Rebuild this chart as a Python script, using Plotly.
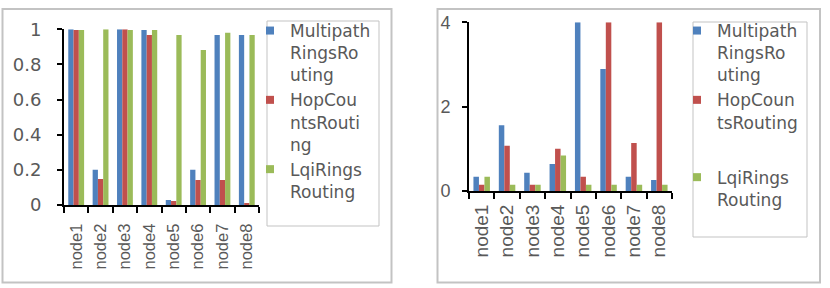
import plotly.graph_objects as go

W, H = 830, 288

categories = ["node1", "node2", "node3", "node4", "node5", "node6", "node7", "node8"]
series_names = ["MultipathRingsRouting", "HopCountsRouting", "LqiRingsRouting"]
legend_left = ["Multipath<br>RingsRo<br>uting", "HopCou<br>ntsRouti<br>ng", "LqiRings<br>Routing"]
legend_right = ["Multipath<br>RingsRo<br>uting", "HopCoun<br>tsRouting<br> ", "LqiRings<br>Routing"]
colors = ["#4F81BD", "#C0504D", "#9BBB59"]

# left chart values
left_multipath = [1.0, 0.2, 1.0, 0.996, 0.028, 0.2, 0.968, 0.968]
left_hopcount = [0.996, 0.148, 1.0, 0.968, 0.023, 0.142, 0.142, 0.011]
left_lqi = [0.996, 1.0, 0.996, 0.996, 0.968, 0.882, 0.981, 0.968]

# right chart values (axis capped at 4)
right_multipath = [0.34, 1.56, 0.43, 0.64, 4.0, 2.89, 0.34, 0.26]
right_hopcount = [0.15, 1.07, 0.15, 1.0, 0.34, 4.0, 1.14, 4.0]
right_lqi = [0.34, 0.15, 0.15, 0.84, 0.15, 0.15, 0.15, 0.15]

left_tickvals = [0, 0.2, 0.4, 0.6, 0.8, 1]
left_ticktext = ["0", "0.2", "0.4", "0.6", "0.8", "1"]
right_tickvals = [0, 2, 4]
right_ticktext = ["0", "2", "4"]

def px(x):
    return x / W

def py(y):
    return 1 - y / H

fig = go.Figure()

left_vals = [left_multipath, left_hopcount, left_lqi]
right_vals = [right_multipath, right_hopcount, right_lqi]

for i in range(3):
    fig.add_trace(go.Bar(x=categories, y=left_vals[i], name=series_names[i],
                         marker=dict(color=colors[i], line=dict(width=0)),
                         xaxis="x", yaxis="y", showlegend=False))
for i in range(3):
    fig.add_trace(go.Bar(x=categories, y=right_vals[i], name=series_names[i],
                         marker=dict(color=colors[i], line=dict(width=0)),
                         xaxis="x2", yaxis="y2", showlegend=False))

# legend entries
for i in range(3):
    fig.add_trace(go.Scatter(x=[None], y=[None], mode="markers", name=legend_left[i],
                             marker=dict(symbol="square", size=8, color=colors[i]),
                             xaxis="x", yaxis="y", legend="legend", showlegend=True))
for i in range(3):
    fig.add_trace(go.Scatter(x=[None], y=[None], mode="markers", name=legend_right[i],
                             marker=dict(symbol="square", size=8, color=colors[i]),
                             xaxis="x2", yaxis="y2", legend="legend2", showlegend=True,
                             legendgroup="c" if i < 2 else "d"))

gray = "#595959"
xfont_l = dict(family="Liberation Sans, Arial", size=16.5, color=gray)
xfont_r = dict(family="Liberation Sans, Arial", size=19, color=gray)
yfont_l = dict(family="DejaVu Sans", size=18, color=gray)
yfont_r = dict(family="Liberation Sans, Arial", size=18, color=gray)
legfont = dict(family="DejaVu Sans", size=17, color=gray)

axis_common = dict(showgrid=False, zeroline=False, showline=True, linecolor="black",
                   linewidth=2, ticks="outside", tickcolor="black", tickwidth=1.5)

fig.update_layout(
    width=W, height=H,
    margin=dict(l=0, r=0, t=0, b=0, autoexpand=False),
    paper_bgcolor="white", plot_bgcolor="white",
    barmode="group", bargap=0.35, bargroupgap=0,
    xaxis=dict(domain=[px(64), px(259)], anchor="y", type="category",
               tickson="boundaries", ticklen=6, tickangle=-90, tickfont=xfont_l,
               ticklabelstandoff=10, **axis_common),
    yaxis=dict(domain=[py(205), py(29.3)], anchor="x", range=[0, 1],
               tickvals=left_tickvals, ticktext=left_ticktext, ticklen=5,
               tickfont=yfont_l, ticklabelstandoff=12, **axis_common),
    xaxis2=dict(domain=[px(469), px(672)], anchor="y2", type="category",
                tickson="boundaries", ticklen=6, tickangle=-90, tickfont=xfont_r,
                ticklabelstandoff=4, **axis_common),
    yaxis2=dict(domain=[py(191), py(22.3)], anchor="x2", range=[0, 4],
                tickvals=right_tickvals, ticktext=right_ticktext, ticklen=5,
                tickfont=yfont_r, ticklabelstandoff=8, **axis_common),
    legend=dict(x=px(250), y=py(13), xanchor="left", yanchor="top",
                bgcolor="rgba(0,0,0,0)", borderwidth=0, font=legfont,
                valign="top", itemwidth=30, traceorder="normal"),
    legend2=dict(x=px(677), y=py(13), xanchor="left", yanchor="top",
                 bgcolor="rgba(0,0,0,0)", borderwidth=0, font=legfont,
                 valign="top", itemwidth=30, tracegroupgap=8, traceorder="grouped"),
    shapes=[
        dict(type="rect", xref="paper", yref="paper", x0=px(2.5), x1=px(391.5),
             y0=py(282.5), y1=py(9), line=dict(color="#c3c3c3", width=2), layer="below"),
        dict(type="rect", xref="paper", yref="paper", x0=px(437.5), x1=px(820),
             y0=py(282.5), y1=py(9), line=dict(color="#c3c3c3", width=2), layer="below"),
        dict(type="rect", xref="paper", yref="paper", x0=px(267), x1=px(379),
             y0=py(226), y1=py(21), line=dict(color="#c3c3c3", width=1), layer="below"),
        dict(type="rect", xref="paper", yref="paper", x0=px(693), x1=px(807),
             y0=py(237), y1=py(22), line=dict(color="#c3c3c3", width=1), layer="below"),
    ],
)

fig.write_html("out.html")
